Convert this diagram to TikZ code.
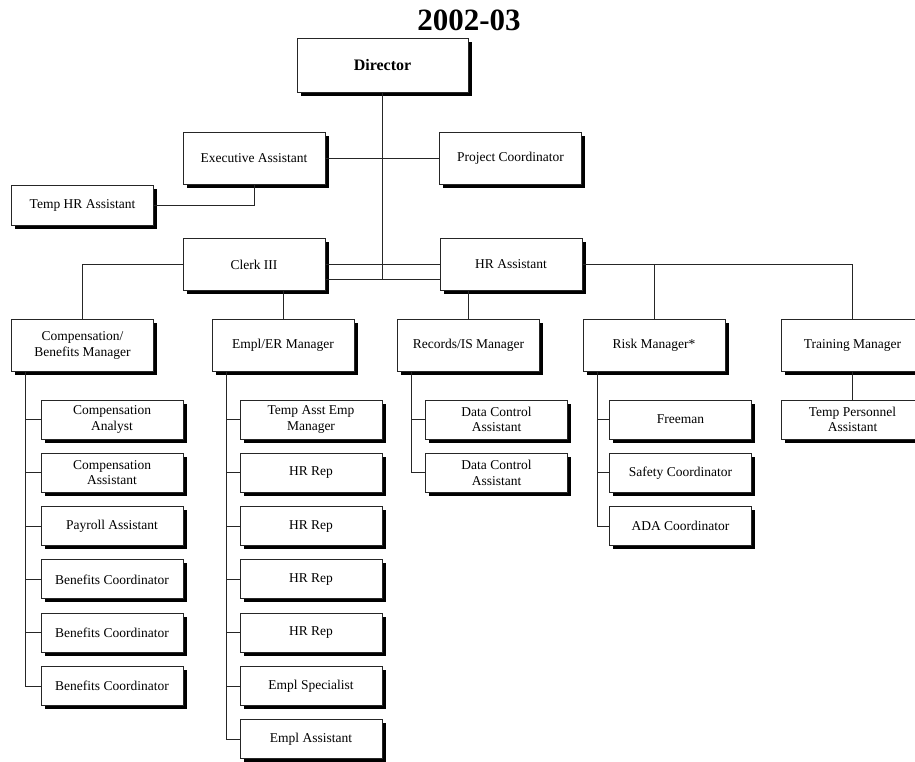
\documentclass[tikz,border=0pt]{standalone}
\usepackage{fontspec}
\setmainfont{Liberation Serif}
\usetikzlibrary{shadows}
\begin{document}
\begin{tikzpicture}[x=1pt,y=-1pt,
  box/.style={draw=black!85, line width=0.9pt, fill=white, align=center,
    inner sep=1pt, font=\fontsize{13.5}{15.5}\selectfont,
    general shadow={fill=black, shadow xshift=3.5pt, shadow yshift=-3.5pt}},
  topbox/.style={box, minimum width=142pt, minimum height=52pt},
  subbox/.style={box, minimum width=142pt, minimum height=39pt},
  link/.style={draw=black!85, line width=0.9pt}]
\useasboundingbox (0,0) rectangle (915,761);

% heading
\node[font=\fontsize{31}{31}\selectfont\bfseries] (title) at (469,20) {2002-03};

% upper levels
\node[box, minimum width=171pt, minimum height=54pt, font=\fontsize{16}{16}\selectfont\bfseries] (dir) at (382.5,65) {Director};
\node[topbox] (exa) at (254,158) {Executive Assistant};
\node[topbox] (pc) at (510.5,158) {Project Coordinator};
\node[subbox, minimum height=40pt] (thr) at (82.5,205) {Temp HR Assistant};
\node[topbox] (clerk) at (254,264.5) {Clerk III};
\node[topbox] (hra) at (511,264.5) {HR Assistant};

% managers
\node[topbox] (comp) at (82.5,345.5) {Compensation/\\Benefits Manager};
\node[topbox] (empl) at (283,345.5) {Empl/ER Manager};
\node[topbox] (rec) at (468.5,345.5) {Records/IS Manager};
\node[topbox] (risk) at (654,345.5) {Risk Manager*};
\node[topbox] (train) at (852.5,345.5) {Training Manager};

% staff under each manager
\node[subbox] (c1) at (112,419.5) {Compensation\\Analyst};
\node[subbox] (c2) at (112,472.8) {Compensation\\Assistant};
\node[subbox] (c3) at (112,526.1) {Payroll Assistant};
\node[subbox] (c4) at (112,579.4) {Benefits Coordinator};
\node[subbox] (c5) at (112,632.7) {Benefits Coordinator};
\node[subbox] (c6) at (112,686) {Benefits Coordinator};

\node[subbox] (e1) at (311,419.5) {Temp Asst Emp\\Manager};
\node[subbox] (e2) at (311,472.8) {HR Rep};
\node[subbox] (e3) at (311,526.1) {HR Rep};
\node[subbox] (e4) at (311,579.4) {HR Rep};
\node[subbox] (e5) at (311,632.7) {HR Rep};
\node[subbox] (e6) at (311,686) {Empl Specialist};
\node[subbox] (e7) at (311,739.3) {Empl Assistant};

\node[subbox] (r1) at (496.5,419.5) {Data Control\\Assistant};
\node[subbox] (r2) at (496.5,472.8) {Data Control\\Assistant};

\node[subbox] (k1) at (680.5,419.5) {Freeman};
\node[subbox] (k2) at (680.5,472.8) {Safety Coordinator};
\node[subbox] (k3) at (680.5,526.1) {ADA Coordinator};

\node[subbox] (t1) at (852.5,419.5) {Temp Personnel\\Assistant};

% connectors
\coordinate (jn) at (dir.south |- 0,279);
\path[link] (dir.south) -- (jn);
\path[link] (exa.east) -- (pc.west);
\path[link] (exa.south) |- (thr.east);
\path[link] (clerk.east) -- (hra.west);
\path[link] ([yshift=-14.5pt]clerk.east) -- ([yshift=-14.5pt]hra.west);
\path[link] (clerk.west) -| (comp.north);
\path[link] (empl.north |- clerk.south) -- (empl.north);
\path[link] (rec.north |- hra.south) -- (rec.north);
\path[link] (hra.east) -| (risk.north);
\path[link] (hra.east) -| (train.north);
\path[link] (train.south) -- (t1.north);

\foreach \m/\list in {comp/{c1,c2,c3,c4,c5,c6}, empl/{e1,e2,e3,e4,e5,e6,e7}, rec/{r1,r2}, risk/{k1,k2,k3}}{
  \foreach \c in \list {
    \path[link] ([xshift=14.5pt]\m.south west) |- (\c.west);
  }
}
\end{tikzpicture}
\end{document}
